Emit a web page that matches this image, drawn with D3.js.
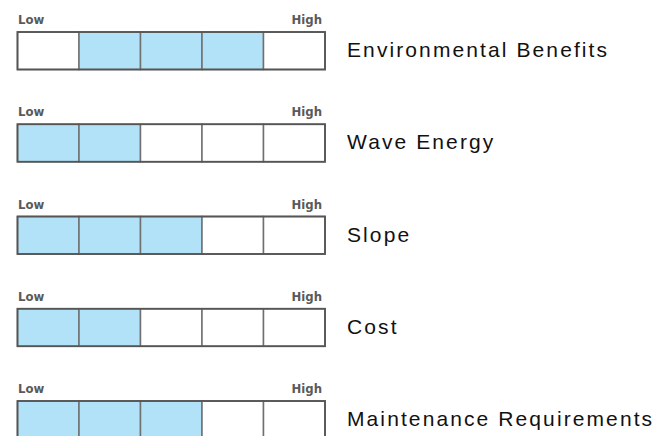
<!DOCTYPE html>
<meta charset="utf-8">

<!-- Load d3.js -->
<script src="https://d3js.org/d3.v7.min.js"></script>

<style>
  body { margin: 0; background: #fff; }
</style>

<!-- Create an element where the chart will take place -->
<svg id="rating" width="660" height="436"></svg>

<script>

    // Data: one row per criterion, filled cells run from lowLevel to highLevel (1..5)
    const categories = ["Environmental Benefits", "Wave Energy", "Slope", "Cost", "Maintenance Requirements"]
    const lowLevel = [2, 1, 1, 1, 1]
    const highLevel = [4, 2, 3, 2, 3]
    const levels = [1, 2, 3, 4, 5]
    const scaleLabels = ["Low", "High"]

    // The svg
    const svg = d3.select("#rating"),
      width = +svg.attr("width"),
      height = +svg.attr("height");

    const barHeight = 37.5
    const blue = "#b2e2f7"

    // x: one band per level
    const x = d3.scaleBand()
      .domain(levels)
      .range([17.5, 325])
      .padding(0)

    // y: top of each row
    const y = d3.scaleLinear()
      .domain([0, categories.length - 1])
      .range([32, 401])

    const rows = categories.map(function(c, i) {
      return { name: c, lo: lowLevel[i], hi: highLevel[i], i: i }
    })

    const row = svg.selectAll("g.row")
      .data(rows)
      .enter()
      .append("g")
        .attr("class", "row")
        .attr("transform", function(d) { return "translate(0," + y(d.i) + ")" })

    // cells
    row.selectAll("rect.cell")
      .data(function(d) {
        return levels.map(function(l) { return { level: l, on: l >= d.lo && l <= d.hi } })
      })
      .enter()
      .append("rect")
        .attr("class", "cell")
        .attr("x", function(d) { return x(d.level) })
        .attr("y", 0)
        .attr("width", x.bandwidth())
        .attr("height", barHeight)
        .style("fill", function(d) { return d.on ? blue : "#fff" })
        .style("stroke", "#707070")
        .style("stroke-width", 1.5)

    // outer frame, a bit darker
    row.append("rect")
      .attr("x", x.range()[0])
      .attr("y", 0)
      .attr("width", x.range()[1] - x.range()[0])
      .attr("height", barHeight)
      .style("fill", "none")
      .style("stroke", "#555")
      .style("stroke-width", 1.8)

    // Low / High labels (condensed bold)
    const lab = function(sel) {
      sel.style("font-family", "'DejaVu Sans Condensed', 'DejaVu Sans', sans-serif")
        .style("font-stretch", "condensed")
        .style("font-weight", "bold")
        .style("font-size", "13px")
        .style("fill", "#5a5a5a")
    }

    row.append("text")
      .attr("x", x.range()[0] + 0.5)
      .attr("y", -8)
      .text(scaleLabels[0])
      .call(lab)

    row.append("text")
      .attr("x", x.range()[1] - 3)
      .attr("y", -8)
      .attr("text-anchor", "end")
      .text(scaleLabels[1])
      .call(lab)

    // category names
    row.append("text")
      .attr("x", 347)
      .attr("y", barHeight / 2)
      .attr("dy", "0.3em")
      .text(function(d) { return d.name })
      .style("font-family", "Liberation Sans, Arial, sans-serif")
      .style("font-size", "21px")
      .style("letter-spacing", "2.1px")
      .style("fill", "#111")

</script>
